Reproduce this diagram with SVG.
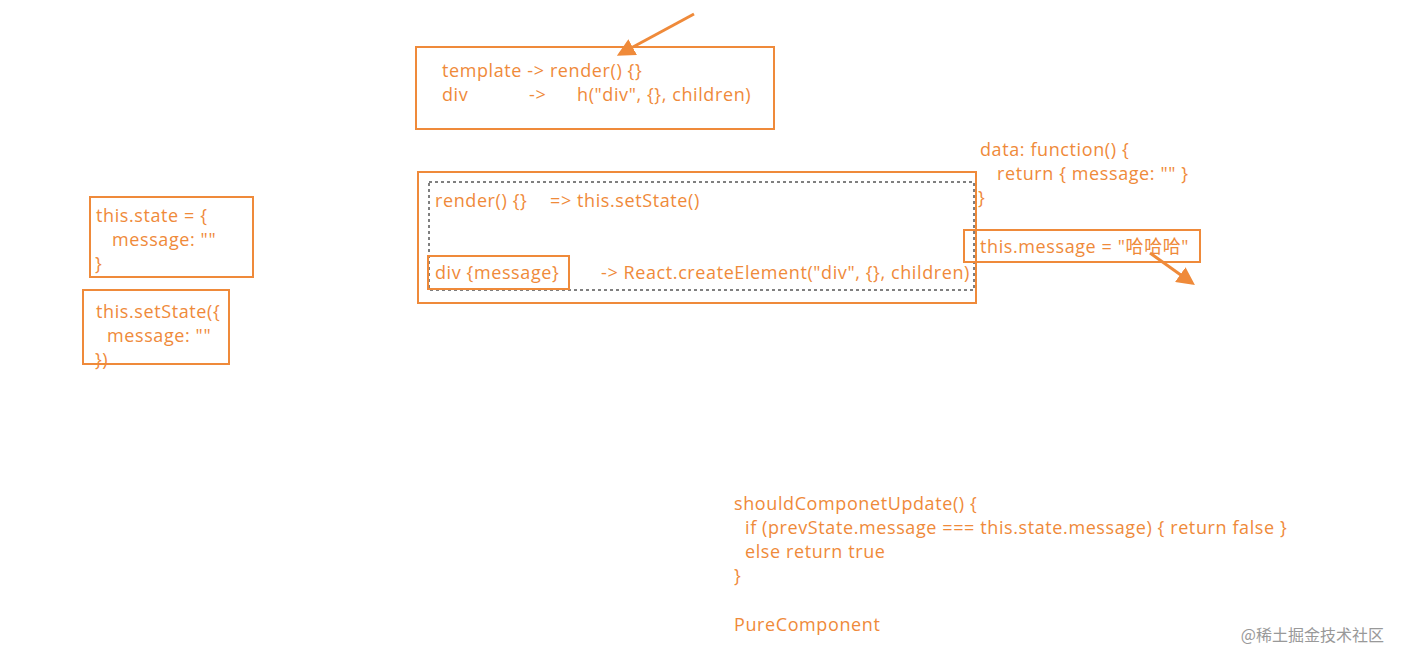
<svg xmlns="http://www.w3.org/2000/svg" width="1403" height="665" viewBox="0 0 1403 665">
<style>
.t{font-family:"Open Sans","Noto Sans","Noto Sans CJK SC",sans-serif;font-size:18px;letter-spacing:0.6px;fill:#ef8a3a}
.b{fill:none;stroke:#ef8a3a;stroke-width:2}
.a{stroke:#ef8a3a;stroke-width:3;fill:none}
</style>
<defs><marker id="ah" viewBox="0 0 10 10" refX="8" refY="5" markerWidth="6" markerHeight="6" orient="auto"><path d="M0,0L10,5L0,10z" fill="#ef8a3a"/></marker></defs>
<rect width="1403" height="665" fill="#fff"/>
<g id="vue-box"><rect class="b" x="416" y="47" width="358" height="82"/>
<text class="t" x="442" y="77">template -&gt; render() {}</text>
<text class="t" x="442" y="101">div</text><text class="t" x="529" y="101">-&gt;</text><text class="t" x="577" y="101">h("div", {}, children)</text></g>
<g id="react-box"><rect class="b" x="418" y="172" width="558" height="131"/>
<rect x="429" y="182" width="545" height="108" fill="none" stroke="#000" stroke-width="1" stroke-dasharray="3,3"/>
<text class="t" x="435" y="207">render() {}</text><text class="t" x="550" y="207">=&gt; this.setState()</text>
<rect class="b" x="428" y="256" width="141" height="33"/>
<text class="t" x="435" y="279">div {message}</text>
<text class="t" x="601" y="279">-&gt; React.createElement("div", {}, children)</text></g>
<g id="data"><text class="t" x="980" y="156">data: function() {</text>
<text class="t" x="997" y="180">return { message: "" }</text>
<text class="t" x="978" y="204">}</text></g>
<g id="this-message"><rect class="b" x="964" y="230" width="236" height="32"/>
<text class="t" x="980" y="253">this.message = "哈哈哈"</text></g>
<g id="state"><rect class="b" x="90" y="197" width="163" height="80"/>
<text class="t" x="96" y="222">this.state = {</text>
<text class="t" x="112" y="246">message: ""</text>
<text class="t" x="95" y="270">}</text></g>
<g id="setstate"><rect class="b" x="83" y="290" width="146" height="74"/>
<text class="t" x="96" y="318">this.setState({</text>
<text class="t" x="107" y="342">message: ""</text>
<text class="t" x="95" y="366">})</text></g>
<g id="should"><text class="t" x="734" y="510">shouldComponetUpdate() {</text>
<text class="t" x="745" y="534">if (prevState.message === this.state.message) { return false }</text>
<text class="t" x="745" y="558">else return true</text>
<text class="t" x="734" y="582">}</text>
<text class="t" x="734" y="631">PureComponent</text></g>
<g id="connectors"><line class="a" x1="694" y1="14" x2="620" y2="54" marker-end="url(#ah)"/>
<line class="a" x1="1150" y1="253" x2="1192" y2="283" marker-end="url(#ah)"/></g>
<text x="1384" y="641" text-anchor="end" style="font-family:'Noto Sans CJK SC',sans-serif;font-size:16px;fill:#999">@稀土掘金技术社区</text>
</svg>
